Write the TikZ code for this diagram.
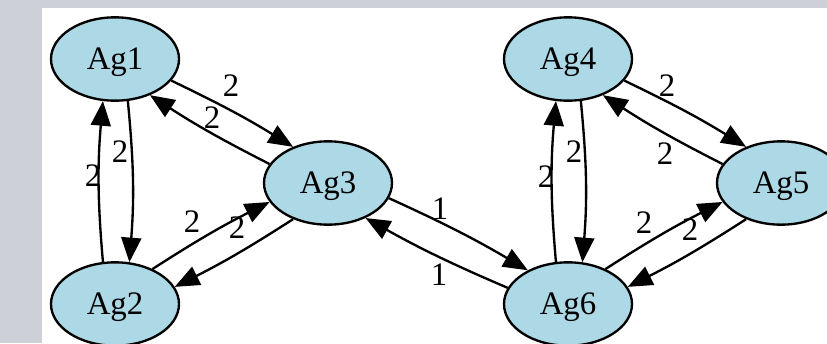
\documentclass[tikz,border=0pt]{standalone}
\usepackage{fontspec}
\setmainfont{Liberation Serif}
\usetikzlibrary{shapes.geometric,arrows.meta}
\definecolor{hellblau}{HTML}{ADD8E6}
\definecolor{rand}{RGB}{205,209,215}

\begin{document}
\begin{tikzpicture}[x=0.015cm,y=0.015cm,
knoten/.style={ellipse, draw=black, line width=1pt, fill=hellblau, minimum width=1.92cm, minimum height=1.25cm, inner sep=0pt, text depth=0pt, font=\fontsize{14}{16}\selectfont},
kante/.style={-{Triangle[length=10.5pt,width=8.5pt]}, line width=1pt},
zahl/.style={inner sep=0pt, text depth=0pt, font=\fontsize{14}{16}\selectfont},
]

\clip (0,0) rectangle (827,343);
\fill[rand] (0,0) rectangle (827,343);
\fill[white] (42,0) rectangle (827,335);

\node[knoten] (A1) at (115,284) {Ag1};
\node[knoten] (A2) at (115,39) {Ag2};
\node[knoten] (A3) at (328,160) {Ag3};
\node[knoten] (A4) at (568,284) {Ag4};
\node[knoten] (A5) at (781,160) {Ag5};
\node[knoten] (A6) at (568,39) {Ag6};

%linkes Dreieck
\draw[kante] (A1.-73) to[bend left=5] (A2.71);
\draw[kante] (A2.106) to[bend left=5] (A1.-106);
\draw[kante] (A1.-21) to[bend left=3] (A3.134);
\draw[kante] (A3.162) to[bend left=3] (A1.-46);
\draw[kante] (A2.43) to[bend left=3] (A3.-162);
\draw[kante] (A3.-134) to[bend left=3] (A2.16);

%Verbindung
\draw[kante] (A3.-14) to[bend left=3] (A6.140);
\draw[kante] (A6.165) to[bend left=3] (A3.-43);

%rechtes Dreieck
\draw[kante] (A4.-73) to[bend left=5] (A6.71);
\draw[kante] (A6.106) to[bend left=5] (A4.-106);
\draw[kante] (A4.-21) to[bend left=3] (A5.134);
\draw[kante] (A5.162) to[bend left=3] (A4.-46);
\draw[kante] (A6.43) to[bend left=3] (A5.-162);
\draw[kante] (A5.-134) to[bend left=3] (A6.16);

\node[zahl] (g12) at (120,191) {2};
\node[zahl] (g21) at (93,167) {2};
\node[zahl] (g13) at (231,257) {2};
\node[zahl] (g31) at (212,225) {2};
\node[zahl] (g23) at (192,121) {2};
\node[zahl] (g32) at (237,115) {2};
\node[zahl] (g36) at (440,134) {1};
\node[zahl] (g63) at (439,68) {1};
\node[zahl] (g46) at (574,191) {2};
\node[zahl] (g64) at (546,166) {2};
\node[zahl] (g45) at (667,257) {2};
\node[zahl] (g54) at (665,189) {2};
\node[zahl] (g65) at (644,120) {2};
\node[zahl] (g56) at (690,113) {2};

\end{tikzpicture}
\end{document}
